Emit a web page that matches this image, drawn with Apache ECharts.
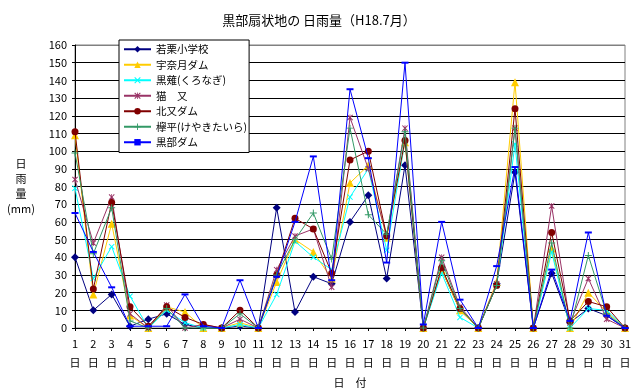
<!DOCTYPE html>
<html><head><meta charset="utf-8">
<script src="https://cdn.jsdelivr.net/npm/echarts@6/dist/echarts.min.js"></script>
<style>html,body{margin:0;padding:0;background:#fff}#c{width:638px;height:390px}</style>
</head><body><div id="c"></div>
<script>
const days = Array.from({length:31},(_,i)=>String(i+1));
const wakaguri = [40,10,19,1,5,8,2,0,0,1,0,68,9,29,25,60,75,28,92,0,33,10,0,25,88,0,31,3,11,7,0];
const unazuki  = [109,19,59,7,0,12,9,0,0,3,0,26,50,43,28,82,92,51,105,0,33,10,0,26,139,0,45,0,20,9,0];
const kuronagi = [79,28,46,18,0,10,3,0,0,2,0,19,49,40,33,74,90,44,106,0,31,6,0,24,104,0,43,0,11,10,0];
const nekomata = [84,48,74,8,0,13,0,2,0,5,0,33,52,56,23,119,90,52,113,0,40,12,0,25,113,0,69,3,28,5,0];
const kitamata = [111,22,71,12,1,12,6,2,0,10,0,30,62,56,31,95,100,52,106,0,34,11,0,24,124,0,54,4,15,12,0];
const keyakidaira = [99,42,68,4,0,11,0,0,0,8,0,30,50,65,39,113,64,53,111,0,38,11,0,24,113,0,48,0,41,8,0];
const kurobeDam = [65,43,23,1,1,1,19,1,0,27,0,29,60,97,27,135,96,37,150,2,60,16,0,35,91,0,33,4,54,7,0];
const seriesNames = ['若栗小学校','宇奈月ダム','黒薙(くろなぎ)','猫　又','北又ダム','欅平(けやきたいら)','黒部ダム'];
const yTicks = {min:0,max:160,interval:10};

const X = 'path://M0,1.2L1.2,0L5,3.8L8.8,0L10,1.2L6.2,5L10,8.8L8.8,10L5,6.2L1.2,10L0,8.8L3.8,5Z';
const PLUS = 'path://M4.3,0H5.7V4.3H10V5.7H5.7V10H4.3V5.7H0V4.3H4.3Z';
const AST = 'path://M0,1.2L1.2,0L5,3.8L8.8,0L10,1.2L6.2,5L10,8.8L8.8,10L5,6.2L1.2,10L0,8.8L3.8,5Z M4.4,0H5.6V10H4.4Z';
const font = '"Noto Sans CJK JP", sans-serif';

const defs = [
  {d:wakaguri, c:'#000080', s:'diamond', sz:8},
  {d:unazuki, c:'#FFCC00', s:'triangle', sz:8},
  {d:kuronagi, c:'#00FFFF', s:X, sz:6},
  {d:nekomata, c:'#993366', s:AST, sz:6},
  {d:kitamata, c:'#800000', s:'circle', sz:7},
  {d:keyakidaira, c:'#339966', s:PLUS, sz:7},
  {d:kurobeDam, c:'#0000FF', s:'rect', sz:[7,2]}
];
const splitColors = Array.from({length:17},(_,i)=> i===16 ? '#808080' : '#000000');

const chart = echarts.init(document.getElementById('c'), null, {renderer:'canvas'});
chart.setOption({
  backgroundColor:'#fff',
  animation:false,
  textStyle:{fontFamily:font},
  title:{text:'黒部扇状地の 日雨量（H18.7月）', left:'center', top:9,
    textStyle:{fontSize:13, fontWeight:'normal', color:'#000', fontFamily:font}},
  grid:{left:75, right:13, top:45, bottom:62, show:true, borderColor:'#808080', borderWidth:1,
    backgroundColor:'transparent', outerBoundsMode:'none', containLabel:false},
  legend:{orient:'vertical', left:119, top:40, backgroundColor:'#fff', borderColor:'#000', borderWidth:1,
    padding:[4,2,5,4], itemGap:5, itemWidth:27, itemHeight:8,
    textStyle:{fontSize:10.5, color:'#000', fontFamily:font}, data:seriesNames},
  xAxis:{type:'category', data:days, boundaryGap:false,
    axisLine:{lineStyle:{color:'#000'}}, axisTick:{show:true, inside:false, length:3, lineStyle:{color:'#000'}},
    axisLabel:{color:'#000', fontSize:11, lineHeight:19, interval:0, margin:6, formatter:v=>v+'\n日', fontFamily:font},
    name:'日　付', nameLocation:'middle', nameGap:43, nameTextStyle:{fontSize:11, color:'#000', fontFamily:font}},
  yAxis:{type:'value', min:yTicks.min, max:yTicks.max, interval:yTicks.interval,
    axisLine:{show:true, lineStyle:{color:'#000'}}, axisTick:{show:true, length:3, lineStyle:{color:'#000'}},
    axisLabel:{color:'#000', fontSize:11, margin:8, fontFamily:font},
    splitLine:{show:true, lineStyle:{color:splitColors, width:1}},
    name:'日\n雨\n量\n(mm)', nameLocation:'middle', nameGap:54, nameRotate:0,
    nameTextStyle:{fontSize:11, lineHeight:15, color:'#000', align:'center', fontFamily:font}},
  series: defs.map((o,i)=>({
    name:seriesNames[i], type:'line', data:o.d, symbol:o.s, symbolSize:o.sz, showSymbol:true,
    symbolKeepAspect:false,
    lineStyle:{color:o.c, width:1}, itemStyle:{color:o.c, borderColor:o.c, borderWidth:0},
    emphasis:{disabled:true}, z:2+i
  }))
});
</script></body></html>
